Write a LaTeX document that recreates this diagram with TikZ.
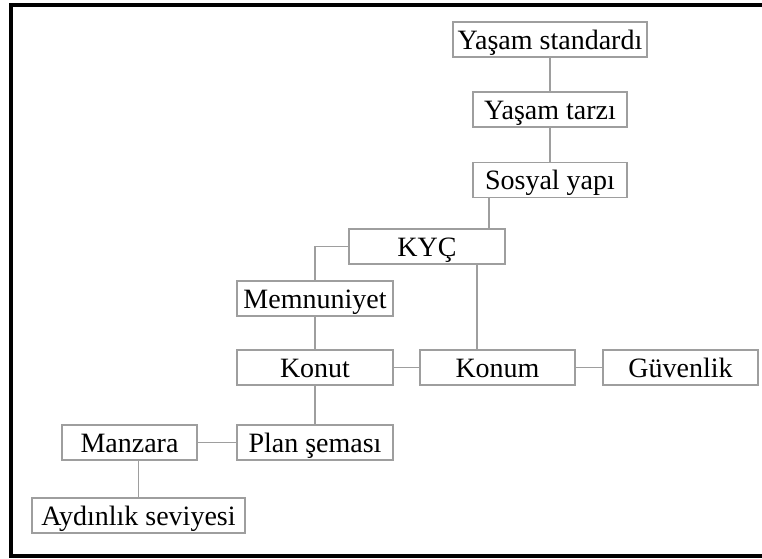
\documentclass[tikz,border=0pt]{standalone}
\usepackage{fontspec}
\setmainfont{Liberation Serif}
\begin{document}
\begin{tikzpicture}[x=1pt,y=-1pt,
  box/.style={draw=boxgray, line width=1.1pt, rectangle, inner sep=0pt,
    minimum height=35pt, text height=25pt, text depth=6pt,
    font=\fontsize{28}{32}\selectfont},
  conn/.style={draw=boxgray, line width=1.1pt}]
\definecolor{boxgray}{HTML}{9E9E9E}
\useasboundingbox (0,0) rectangle (762,558);
\clip (0,0) rectangle (762,558);
\draw[line width=4pt, black] (11,5) rectangle (780,556);
\node[box, minimum width=194pt] (ys) at (550,39.5) {Yaşam standardı};
\node[box, minimum width=154pt] (yt) at (550,109.5) {Yaşam tarzı};
\node[box, minimum width=154pt] (sy) at (550,180) {Sosyal yapı};
\node[box, minimum width=156pt] (kyc) at (427,246.5) {KYÇ};
\node[box, minimum width=156pt] (mem) at (315,298.5) {Memnuniyet};
\node[box, minimum width=156pt] (konut) at (315,367.5) {Konut};
\node[box, minimum width=155pt] (konum) at (497.5,367.5) {Konum};
\node[box, minimum width=155pt] (guv) at (680.5,367.5) {Güvenlik};
\node[box, minimum width=156pt] (plan) at (315,442.5) {Plan şeması};
\node[box, minimum width=135pt] (manz) at (129.5,442.5) {Manzara};
\node[box, minimum width=213pt] (ayd) at (138.5,515.5) {Aydınlık seviyesi};
\coordinate (c1) at (489,0);
\coordinate (c2) at (477,0);
\draw[conn] (ys.south) -- (yt.north);
\draw[conn] (yt.south) -- (sy.north);
\draw[conn] (sy.south -| c1) -- (kyc.north -| c1);
\draw[conn] (kyc.west) -| (mem.north);
\draw[conn] (kyc.south -| c2) -- (konum.north -| c2);
\draw[conn] (mem.south) -- (konut.north);
\draw[conn] (konut.east) -- (konum.west);
\draw[conn] (konum.east) -- (guv.west);
\draw[conn] (konut.south) -- (plan.north);
\draw[conn] (plan.west) -- (manz.east);
\draw[conn] (ayd.north) -- (ayd.north |- manz.south);
\end{tikzpicture}
\end{document}
